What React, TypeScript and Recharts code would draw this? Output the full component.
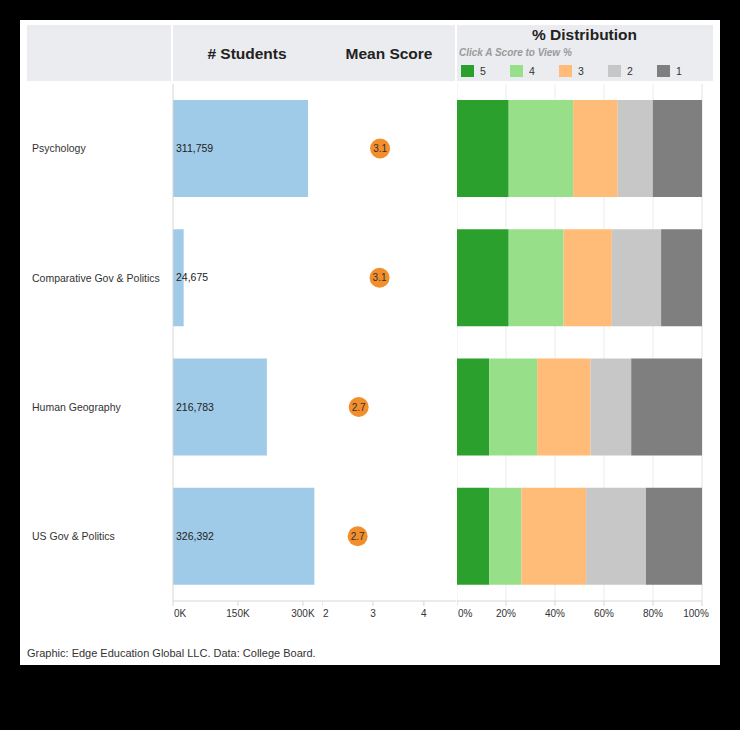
import React from 'react';
import {
  BarChart,
  Bar,
  XAxis,
  YAxis,
  CartesianGrid,
  LabelList,
} from 'recharts';

// ---------- data ----------
const subjects = ['Psychology', 'Comparative Gov & Politics', 'Human Geography', 'US Gov & Politics'];
const students = [311759, 24675, 216783, 326392];
const meanScores = [3.14, 3.13, 2.72, 2.7];

const scoreKeys = ['5', '4', '3', '2', '1'];
const scoreColors = ['#2ca02c', '#98df8a', '#ffbb78', '#c7c7c7', '#7f7f7f'];
const pct5 = [21.1, 21.1, 13.2, 13.2];
const pct4 = [26.3, 22.4, 19.5, 13.1];
const pct3 = [18.2, 19.7, 21.8, 26.4];
const pct2 = [14.3, 20.1, 16.6, 24.4];
const pct1 = [20.1, 16.7, 28.9, 22.9];

const studentTicks = [0, 150000, 300000];
const meanTicks = [2, 3, 4];
const pctTicks = [0, 20, 40, 60, 80, 100];

const rows = subjects.map((s, i) => ({
  subject: s,
  students: students[i],
  mean: meanScores[i],
  s5: pct5[i],
  s4: pct4[i],
  s3: pct3[i],
  s2: pct2[i],
  s1: pct1[i],
}));

const FONT = '"Liberation Sans", Arial, Helvetica, sans-serif';
const SEP = '#d6d6d6';
const GRID = '#ececec';

const CHART_TOP = 74;
const CHART_H = 557;
const MARGIN = { top: 10, right: 0, bottom: 0, left: 0 };
const BAR_SIZE = 97;

function AxisTick(props: any) {
  const { x, y, payload, fmt, startVal, endVal, endShift } = props;
  let anchor: 'start' | 'middle' | 'end' = 'middle';
  let dx = 0;
  if (payload.value === startVal) {
    anchor = 'start';
    dx = 1;
  } else if (endVal !== undefined && payload.value === endVal) {
    dx = -(endShift || 0);
  }
  return (
    <text x={x + dx} y={y} dy="0.71em" textAnchor={anchor} fontSize={10} fill="#333" fontFamily={FONT}>
      {fmt(payload.value)}
    </text>
  );
}

function RowLabel(props: any) {
  const { y, payload } = props;
  return (
    <text x={12} y={y} dy="0.355em" textAnchor="start" fontSize={10.5} fill="#333" fontFamily={FONT}>
      {payload.value}
    </text>
  );
}

function MeanDot(props: any) {
  const { x, y, width, height, payload } = props;
  if (x == null || y == null) return null;
  const cx = x + width;
  const cy = y + height / 2;
  return (
    <g>
      <circle cx={cx} cy={cy} r={10} fill="#f28e2b" />
      <text x={cx} y={cy} dy="0.355em" textAnchor="middle" fontSize={10} fill="#333" fontFamily={FONT}>
        {Number(payload.mean).toFixed(1)}
      </text>
    </g>
  );
}

export default function App() {
  const headerCell = (left: number, width: number) => (
    <div
      style={{
        position: 'absolute',
        left,
        top: 25,
        width,
        height: 56,
        background: '#ebecef',
      }}
    />
  );

  return (
    <div
      style={{
        position: 'absolute',
        left: 0,
        top: 0,
        width: 740,
        height: 730,
        background: '#000',
        fontFamily: FONT,
        overflow: 'hidden',
      }}
    >
      <div style={{ position: 'absolute', left: 20, top: 20, width: 700, height: 645, background: '#fff' }} />

      {headerCell(27, 144)}
      {headerCell(173, 282)}
      {headerCell(457, 256)}

      <div
        style={{
          position: 'absolute',
          left: 172,
          top: 44,
          width: 150,
          height: 20,
          lineHeight: '20px',
          textAlign: 'center',
          fontWeight: 'bold',
          fontSize: 15.5,
          color: '#222',
        }}
      >
        # Students
      </div>
      <div
        style={{
          position: 'absolute',
          left: 322,
          top: 44,
          width: 134,
          height: 20,
          lineHeight: '20px',
          textAlign: 'center',
          fontWeight: 'bold',
          fontSize: 15.5,
          color: '#222',
        }}
      >
        Mean Score
      </div>
      <div
        style={{
          position: 'absolute',
          left: 456,
          top: 25,
          width: 257,
          height: 20,
          lineHeight: '20px',
          textAlign: 'center',
          fontWeight: 'bold',
          fontSize: 15.5,
          color: '#222',
        }}
      >
        % Distribution
      </div>
      <div
        style={{
          position: 'absolute',
          left: 459,
          top: 46,
          height: 14,
          lineHeight: '14px',
          fontWeight: 'bold',
          fontStyle: 'italic',
          fontSize: 10,
          color: '#9a9a9a',
          whiteSpace: 'nowrap',
        }}
      >
        Click A Score to View %
      </div>
      {scoreKeys.map((k, i) => (
        <React.Fragment key={k}>
          <div
            style={{
              position: 'absolute',
              left: 461 + i * 49,
              top: 65,
              width: 13,
              height: 12,
              background: scoreColors[i],
            }}
          />
          <div
            style={{
              position: 'absolute',
              left: 480 + i * 49,
              top: 64,
              height: 14,
              lineHeight: '14px',
              fontSize: 10.5,
              color: '#333',
            }}
          >
            {k}
          </div>
        </React.Fragment>
      ))}

      {/* # Students */}
      <div style={{ position: 'absolute', left: 20, top: CHART_TOP }}>
        <BarChart width={302} height={CHART_H} data={rows} layout="vertical" margin={MARGIN}>
          <XAxis
            type="number"
            domain={[0, 344000]}
            ticks={studentTicks}
            height={30}
            axisLine={{ stroke: SEP }}
            tickLine={{ stroke: SEP }}
            tickSize={5}
            tickMargin={4}
            interval={0}
            tick={(p: any) => (
              <AxisTick {...p} fmt={(v: number) => `${v / 1000}K`} startVal={0} />
            )}
          />
          <YAxis
            type="category"
            dataKey="subject"
            width={153}
            axisLine={{ stroke: SEP }}
            tickLine={false}
            tick={(p: any) => <RowLabel {...p} />}
          />
          <Bar dataKey="students" fill="#a0cbe8" barSize={BAR_SIZE} isAnimationActive={false}>
            <LabelList
              dataKey="students"
              position="insideLeft"
              offset={3}
              fontSize={10.5}
              fill="#222"
              fontFamily={FONT}
              formatter={(v: any) => Number(v).toLocaleString('en-US')}
            />
          </Bar>
        </BarChart>
      </div>

      {/* Mean Score */}
      <div style={{ position: 'absolute', left: 322, top: CHART_TOP }}>
        <BarChart width={134.5} height={CHART_H} data={rows} layout="vertical" margin={MARGIN}>
          <XAxis
            type="number"
            domain={[2, 4.64]}
            ticks={meanTicks}
            height={30}
            axisLine={{ stroke: SEP }}
            tickLine={{ stroke: SEP }}
            tickSize={5}
            tickMargin={4}
            interval={0}
            allowDataOverflow
            tick={(p: any) => <AxisTick {...p} fmt={(v: number) => `${v}`} startVal={2} />}
          />
          <YAxis
            type="category"
            dataKey="subject"
            width={0}
            axisLine={{ stroke: SEP }}
            tickLine={false}
            tick={false}
          />
          <Bar
            dataKey="mean"
            barSize={BAR_SIZE}
            fill="none"
            shape={(p: any) => <MeanDot {...p} />}
            isAnimationActive={false}
          />
        </BarChart>
      </div>

      {/* % Distribution */}
      <div style={{ position: 'absolute', left: 456.5, top: CHART_TOP }}>
        <BarChart
          width={257}
          height={CHART_H}
          data={rows}
          layout="vertical"
          margin={{ top: 10, right: 12, bottom: 0, left: 0 }}
        >
          <CartesianGrid horizontal={false} stroke={GRID} />
          <XAxis
            type="number"
            domain={[0, 100]}
            ticks={pctTicks}
            height={30}
            axisLine={{ stroke: SEP }}
            tickLine={{ stroke: SEP }}
            tickSize={5}
            tickMargin={4}
            interval={0}
            tick={(p: any) => (
              <AxisTick {...p} fmt={(v: number) => `${v}%`} startVal={0} endVal={100} endShift={6} />
            )}
          />
          <YAxis
            type="category"
            dataKey="subject"
            width={0}
            axisLine={{ stroke: SEP }}
            tickLine={false}
            tick={false}
          />
          {scoreKeys.map((k, i) => (
            <Bar
              key={k}
              dataKey={`s${k}`}
              stackId="dist"
              fill={scoreColors[i]}
              barSize={BAR_SIZE}
              isAnimationActive={false}
            />
          ))}
        </BarChart>
      </div>

      <div
        style={{
          position: 'absolute',
          left: 27,
          top: 645,
          height: 16,
          lineHeight: '16px',
          fontSize: 11,
          color: '#333',
          whiteSpace: 'nowrap',
        }}
      >
        Graphic: Edge Education Global LLC. Data: College Board.
      </div>
    </div>
  );
}
